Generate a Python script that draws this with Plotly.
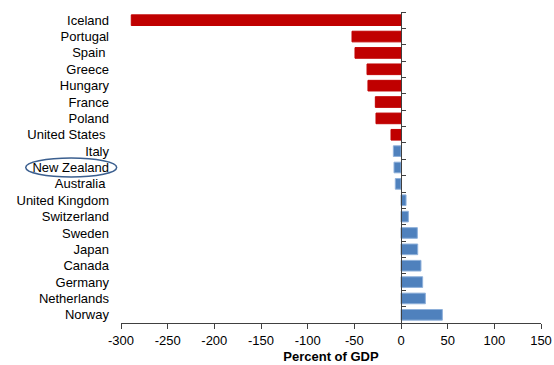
import plotly.graph_objects as go

countries = ["Iceland", "Portugal", "Spain\u00a0", "Greece", "Hungary", "France", "Poland",
             "United States\u00a0", "Italy", "New Zealand", "Australia\u00a0", "United Kingdom",
             "Switzerland", "Sweden", "Japan", "Canada", "Germany", "Netherlands", "Norway"]
values = [-289, -52.5, -49.3, -36.4, -35.4, -27.5, -26.8, -10.7, -8.2, -7.5, -6.1,
          5.4, 7.9, 17.5, 17.9, 21.4, 23.2, 26.1, 44.3]
x_ticks = [-300, -250, -200, -150, -100, -50, 0, 50, 100, 150]

red_count = 8
colors = ["#C00000"] * red_count + ["#4F81BD"] * (len(countries) - red_count)
line_colors = ["#C00000"] * red_count + ["#8EB0DA"] * (len(countries) - red_count)

fig = go.Figure()
fig.add_trace(go.Bar(
    x=values, y=countries, orientation="h",
    marker=dict(color=colors, line=dict(color=line_colors, width=1)),
    hoverinfo="x+y",
))
# invisible trace to carry the zero-positioned axis with boundary ticks
fig.add_trace(go.Scatter(
    x=[0] * len(countries), y=countries, yaxis="y2", mode="markers",
    marker=dict(opacity=0), hoverinfo="skip", showlegend=False,
))

cat_range = [len(countries) - 0.5, -0.5]
fig.update_layout(
    width=554, height=365,
    margin=dict(l=121, r=13, t=12, b=42, autoexpand=False),
    plot_bgcolor="white", paper_bgcolor="white",
    showlegend=False, bargap=0.35,
    font=dict(family="Liberation Sans, Arial, sans-serif", size=13, color="#000"),
    xaxis=dict(
        range=[-300, 150], tickvals=x_ticks, ticktext=[str(v) for v in x_ticks],
        showgrid=False, zeroline=False, showline=True, linecolor="#404040", linewidth=1,
        ticks="outside", ticklen=5, tickcolor="#404040", automargin=False,
        title=dict(text="<b>Percent of GDP</b>", font=dict(size=13), standoff=5),
        tickfont=dict(size=13),
    ),
    yaxis=dict(
        type="category", categoryorder="array", categoryarray=countries,
        range=cat_range, showgrid=False, zeroline=False, showline=False,
        ticks="", ticklabelstandoff=11, tickfont=dict(size=13), automargin=False,
    ),
    yaxis2=dict(
        type="category", categoryorder="array", categoryarray=countries,
        range=cat_range, overlaying="y", anchor="free", position=300 / 450,
        side="right", showline=True, linecolor="#404040", linewidth=1,
        ticks="outside", ticklen=4, tickcolor="#404040", tickson="boundaries",
        showticklabels=False, showgrid=False, zeroline=False, automargin=False,
    ),
    shapes=[dict(
        type="circle", xref="paper", yref="y",
        x0=(25.7 - 121) / 420, x1=(116.7 - 121) / 420,
        y0=9 - 0.58, y1=9 + 0.58,
        line=dict(color="#3B5F8F", width=1.5), fillcolor="rgba(0,0,0,0)",
    )],
)

fig.write_html("out.html", config={"displayModeBar": False},
               post_script="document.body.style.margin='0';")
